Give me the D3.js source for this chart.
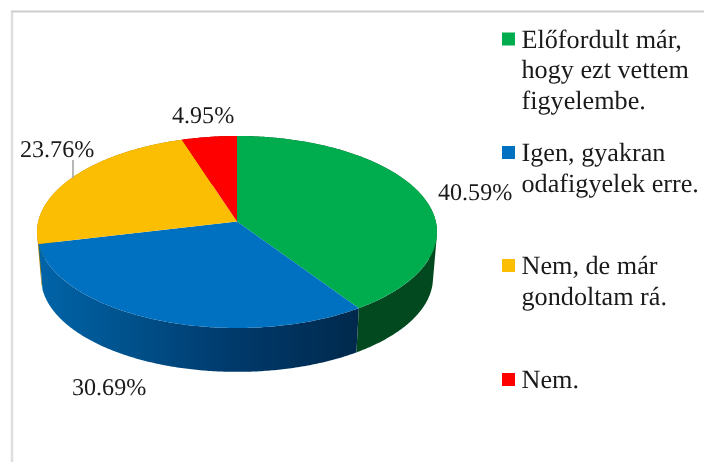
<!DOCTYPE html>
<html>
<head>
<meta charset="utf-8">
<script src="https://d3js.org/d3.v7.min.js"></script>
<style>
  html, body { margin: 0; padding: 0; background: #fff; }
  svg { filter: blur(0.4px); }
  text { font-family: "Liberation Serif", serif; fill: #1a1a1a; text-rendering: geometricPrecision; }
</style>
</head>
<body>
<svg id="chart"></svg>
<script>
var categories = ["Előfordult már, hogy ezt vettem figyelembe.", "Igen, gyakran odafigyelek erre.", "Nem, de már gondoltam rá.", "Nem."];
var values = [40.59, 30.69, 23.76, 4.95];
var colors = ["#00ad4e", "#0070c0", "#fcbe03", "#ff0000"];
var legendLines = [
  ["Előfordult már,", "hogy ezt vettem", "figyelembe."],
  ["Igen, gyakran", "odafigyelek erre."],
  ["Nem, de már", "gondoltam rá."],
  ["Nem."]
];

var width = 704;
var height = 462;
var centerX = 237;
var centerY = 221.5;
var radiusX = 198.8;
var radiusY = 94.85;
var tilt = 0.1094;    // perspective strength of the pie disc
var depth = 46;
var baseScale = 0.98; // the bottom disc sits a bit further away

var svg = d3.select("#chart")
  .attr("width", width)
  .attr("height", height)
  .style("display", "block");

// gradients for the side wall, left to right
var sideStops = [
  [["#03491f", 0], ["#03491f", 1]],
  [["#0064a8", 0], ["#00508a", 0.3], ["#003a6c", 0.6], ["#00294c", 1]],
  [["#b08400", 0], ["#8a6800", 1]],
  [["#a00000", 0], ["#800000", 1]]
];
var sideOrder = [3, 2, 0, 1];
var defs = svg.append("defs");

function project(angle, level) {
  var u = Math.sin(angle);
  var v = -Math.cos(angle);
  var s = 1 / (1 - tilt * v);
  var k = level ? baseScale : 1;
  return [
    centerX + k * radiusX * u * s,
    centerY + (level ? depth : 0) + k * radiusY * v * s
  ];
}

function arcPoints(a0, a1, level) {
  var n = Math.max(2, Math.ceil(Math.abs(a1 - a0) / 0.01));
  return d3.range(n + 1).map(i => project(a0 + (a1 - a0) * i / n, level));
}

var slices = d3.pie().sort(null).value(d => d)(values);
var line = d3.line();

// the wall is a strip of quads, all wound the same way so they union cleanly
function wallPath(a0, a1) {
  var top = arcPoints(a0, a1, 0);
  var base = arcPoints(a0, a1, 1);
  return d3.range(top.length - 1).map(i => {
    var quad = [top[i], top[i + 1], base[i + 1], base[i]];
    if (d3.polygonArea(quad) < 0) quad.reverse();
    return line(quad) + "Z";
  }).join("");
}

// frame
svg.append("line")
  .attr("x1", 12).attr("x2", 12).attr("y1", 11).attr("y2", height)
  .attr("stroke", "#dedede").attr("stroke-width", 2.5);
svg.append("line")
  .attr("x1", 11).attr("x2", width).attr("y1", 11.5).attr("y2", 11.5)
  .attr("stroke", "#cdcdcd").attr("stroke-width", 2);

// side walls, back ones first
sideOrder.forEach(i => {
  var d = slices[i];
  var pts = arcPoints(d.startAngle, d.endAngle, 0)
    .concat(arcPoints(d.endAngle, d.startAngle, 1));
  var grad = defs.append("linearGradient")
    .attr("id", "side" + i)
    .attr("gradientUnits", "userSpaceOnUse")
    .attr("x1", d3.min(pts, p => p[0]))
    .attr("x2", d3.max(pts, p => p[0]))
    .attr("y1", 0)
    .attr("y2", 0);
  sideStops[i].forEach(s => {
    grad.append("stop").attr("offset", s[1]).attr("stop-color", s[0]);
  });
  svg.append("path")
    .attr("d", wallPath(d.startAngle, d.endAngle))
    .attr("fill", "url(#side" + i + ")");
});

// top surface
slices.forEach((d, i) => {
  var pts = [[centerX, centerY]].concat(arcPoints(d.startAngle, d.endAngle, 0));
  svg.append("path")
    .attr("d", line(pts) + "Z")
    .attr("fill", colors[i]);
});

// leader line of the yellow label
svg.append("line")
  .attr("x1", 73).attr("x2", 73)
  .attr("y1", 160).attr("y2", 178)
  .attr("stroke", "#a6a6a6")
  .attr("stroke-width", 1.6);

// value labels
var labelPos = [[438, 200], [72, 395], [20, 157], [172, 123]];
svg.selectAll(".value")
  .data(values)
  .enter()
  .append("text")
    .classed("value", true)
    .attr("x", (d, i) => labelPos[i][0])
    .attr("y", (d, i) => labelPos[i][1])
    .style("font-size", "24.1px")
    .text(d => d.toFixed(2) + "%");

// legend
var legendY = [47.5, 161, 274, 388];
legendLines.forEach((lines, i) => {
  svg.append("rect")
    .attr("x", 502).attr("y", legendY[i] - 15)
    .attr("width", 13).attr("height", 13)
    .attr("fill", colors[i]);
  var t = svg.append("text")
    .attr("data-category", categories[i])
    .style("font-size", "26.2px");
  lines.forEach((s, j) => {
    t.append("tspan")
      .attr("x", 521.5)
      .attr("y", legendY[i] + j * 30.6)
      .text(s);
  });
});
</script>
</body>
</html>
